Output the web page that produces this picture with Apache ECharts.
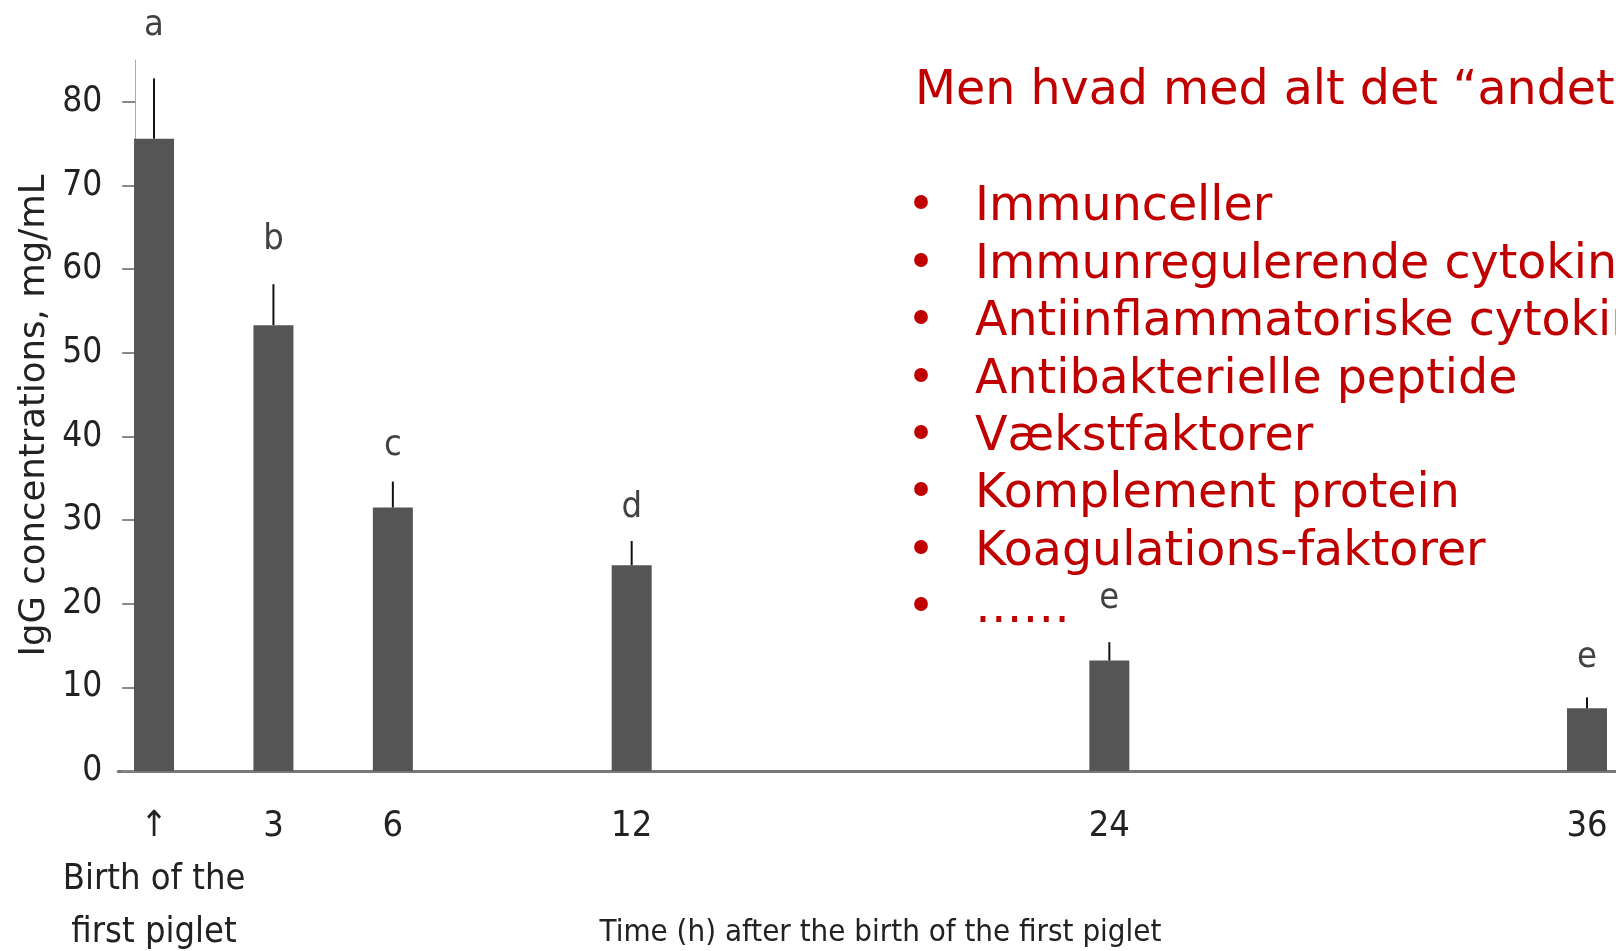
<!DOCTYPE html>
<html>
<head>
<meta charset="utf-8">
<script src="https://cdn.jsdelivr.net/npm/echarts@6/dist/echarts.min.js"></script>
<style>
  html, body { margin: 0; padding: 0; background: #fff; }
  #chart { width: 1616px; height: 951px; }
</style>
</head>
<body>
<div id="chart"></div>
<script>
// IgG i råmælk efter fødsel af første pattegris
const hours = [0, 3, 6, 12, 24, 36]
const igg = [75.6, 53.3, 31.5, 24.6, 13.2, 7.5]
const iggSd = [7.2, 4.9, 3.1, 2.9, 2.2, 1.3]
const letters = ['a', 'b', 'c', 'd', 'e', 'e']
const letterY = [89.1, 63.5, 38.9, 31.5, 20.6, 13.6]
const yTicks = [0, 10, 20, 30, 40, 50, 60, 70, 80]
const xTickText = ['↑\nBirth of the\nfirst piglet', '3', '6', '12', '24', '36']

const headline = 'Men hvad med alt det “andet”?'
const bulletItems = [
  'Immunceller',
  'Immunregulerende cytokiner',
  'Antiinflammatoriske cytokiner',
  'Antibakterielle peptide',
  'Vækstfaktorer',
  'Komplement protein',
  'Koagulations-faktorer',
  '……'
]

const narrow = '"Liberation Sans Narrow", "DejaVu Sans Condensed", sans-serif'
const red = '#C00000'
const redFont = '47.5px "DejaVu Sans"'

const chart = echarts.init(document.getElementById('chart'))

// rød tekst oven på grafen
const textEls = [{
  type: 'text',
  style: { text: headline, x: 915, y: 92, fill: red, font: redFont, verticalAlign: 'middle' }
}]
bulletItems.forEach((t, i) => {
  const y = 208 + i * 57.4
  textEls.push({
    type: 'text',
    style: { text: '•', x: 921, y, fill: red, font: redFont, align: 'center', verticalAlign: 'middle' }
  })
  textEls.push({
    type: 'text',
    style: { text: t, x: 975, y, fill: red, font: redFont, verticalAlign: 'middle' }
  })
})

chart.setOption({
  animation: false,
  grid: { left: 118.2, top: 60, width: 1508.6, height: 711, outerBoundsMode: 'none' },
  xAxis: {
    type: 'value',
    min: -0.9,
    max: 37,
    splitLine: { show: false },
    axisTick: { show: false },
    axisLine: { lineStyle: { color: '#777', width: 3 } },
    axisLabel: {
      customValues: hours,
      formatter: v => xTickText[hours.indexOf(v)],
      margin: 29,
      color: '#222',
      fontSize: 36,
      lineHeight: 53,
      fontFamily: narrow
    },
    name: 'Time (h) after the birth of the first piglet',
    nameLocation: 'middle',
    nameGap: 146,
    nameMoveOverlap: false,
    nameTextStyle: { color: '#222', fontSize: 31, fontFamily: narrow, padding: [0, 0, 0, 16] }
  },
  yAxis: {
    type: 'value',
    min: 0,
    max: 85,
    offset: -17,
    splitLine: { show: false },
    axisLine: { show: true, onZero: false, lineStyle: { color: '#aaa', width: 1 } },
    axisTick: { show: true, customValues: yTicks, length: 13, lineStyle: { color: '#888', width: 2 } },
    axisLabel: {
      customValues: yTicks,
      margin: 33,
      color: '#222',
      fontSize: 35,
      fontFamily: narrow
    },
    name: 'IgG concentrations, mg/mL',
    nameLocation: 'middle',
    nameGap: 82,
    nameMoveOverlap: false,
    nameTextStyle: { color: '#222', fontSize: 35.5, fontFamily: '"DejaVu Sans", sans-serif' }
  },
  series: [
    {
      type: 'bar',
      barWidth: 40,
      itemStyle: { color: '#555' },
      data: hours.map((h, i) => [h, igg[i]])
    },
    {
      // kun øvre fejllinje
      type: 'custom',
      z: 3,
      data: hours.map((h, i) => [h, igg[i], iggSd[i]]),
      renderItem: (params, api) => {
        const x = api.value(0)
        const p0 = api.coord([x, api.value(1)])
        const p1 = api.coord([x, api.value(1) + api.value(2)])
        return {
          type: 'line',
          shape: { x1: p0[0], y1: p0[1], x2: p1[0], y2: p1[1] },
          style: { stroke: '#111', lineWidth: 2 }
        }
      }
    },
    {
      type: 'scatter',
      symbolSize: 1,
      clip: false,
      itemStyle: { color: 'rgba(0,0,0,0)' },
      label: {
        show: true,
        position: 'inside',
        formatter: p => p.value[2],
        color: '#111',
        fontSize: 36,
        fontFamily: narrow
      },
      data: hours.map((h, i) => [h, letterY[i], letters[i]])
    }
  ],
  graphic: textEls
})
</script>
</body>
</html>
